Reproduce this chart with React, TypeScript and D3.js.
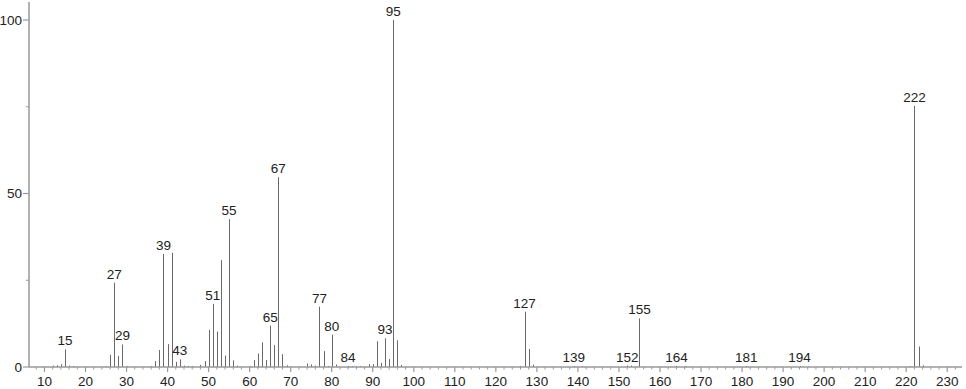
import React from "react";
import * as d3 from "d3";

const mzValues = [12, 13, 14, 15, 16, 17, 25, 26, 27, 28, 29, 30, 36, 37, 38, 39, 40, 41, 42, 43, 44, 45, 46, 48, 49, 50, 51, 52, 53, 54, 55, 56, 57, 60, 61, 62, 63, 64, 65, 66, 67, 68, 69, 74, 75, 76, 77, 78, 79, 80, 81, 84, 85, 86, 87, 89, 90, 91, 92, 93, 94, 95, 96, 97, 126, 127, 128, 129, 139, 141, 152, 153, 155, 164, 166, 181, 194, 221, 222, 223, 224];
const intensities = [0.4, 0.5, 0.8, 5.1, 0.4, 0.3, 0.3, 3.5, 24.3, 3.2, 6.5, 0.3, 0.3, 1.7, 4.9, 32.6, 6.6, 32.9, 1.5, 2.2, 0.4, 0.3, 0.3, 0.6, 1.7, 10.7, 18.2, 10.2, 30.8, 3.3, 42.6, 1.9, 0.4, 0.3, 2.0, 3.9, 7.1, 2.0, 11.9, 6.3, 54.7, 3.7, 0.5, 1.0, 0.7, 0.4, 17.4, 4.6, 0.3, 9.3, 0.7, 0.3, 0.3, 0.3, 0.3, 0.8, 0.8, 7.4, 1.2, 8.3, 2.3, 100, 7.7, 0.6, 0.3, 15.9, 5.2, 0.7, 0.3, 0.3, 0.4, 0.4, 14.0, 0.3, 0.3, 0.3, 0.3, 0.3, 75.2, 5.9, 0.5];
const labeledPeaks = [15, 27, 29, 39, 43, 51, 55, 65, 67, 77, 80, 84, 93, 95, 127, 139, 152, 155, 164, 181, 194, 222];
const xMajorTicks = d3.range(10, 231, 10);
const xMinorTicks = d3.range(8, 234, 2).filter((v) => v % 10 !== 0);
const yMajorTicks = [0, 50, 100];
const yMinorTicks = [25, 75];

const W = 966;
const H = 389;
const FONT = "'Liberation Sans', Arial, sans-serif";
const AXIS = "#999";

export default function App() {
  const x = d3.scaleLinear().domain([6.23, 233.6]).range([29, 962]);
  const y = d3.scaleLinear().domain([0, 100]).range([367, 20]);
  const peaks = mzValues.map((m, i) => ({ mz: m, v: intensities[i] }));
  const y0 = y(0);
  return (
    <svg width={W} height={H} style={{ position: "absolute", left: 0, top: 0, background: "#fff" }}>
      {/* peaks */}
      {peaks.map((p) => (
        <line
          key={"p" + p.mz}
          x1={Math.round(x(p.mz)) + 0.5}
          x2={Math.round(x(p.mz)) + 0.5}
          y1={y0}
          y2={y(p.v)}
          stroke="#6a6a6a"
          strokeWidth={1}
        />
      ))}
      {/* axes */}
      <line x1={x.range()[0]} x2={x.range()[1]} y1={y0} y2={y0} stroke={AXIS} strokeWidth={1.5} />
      <line x1={29} x2={29} y1={2} y2={y0} stroke={AXIS} strokeWidth={1.5} />
      {xMajorTicks.map((t) => (
        <g key={"xt" + t}>
          <line x1={x(t)} x2={x(t)} y1={y0} y2={y0 + 5} stroke={AXIS} strokeWidth={1.2} />
          <text x={x(t)} y={386} textAnchor="middle" fontFamily={FONT} fontSize={13.5} fill="#222">
            {t}
          </text>
        </g>
      ))}
      {xMinorTicks.map((t) => (
        <line key={"xm" + t} x1={x(t)} x2={x(t)} y1={y0} y2={y0 + 2.5} stroke={AXIS} strokeWidth={1} />
      ))}
      {yMajorTicks.map((t) => (
        <g key={"yt" + t}>
          <line x1={23} x2={29} y1={y(t)} y2={y(t)} stroke={AXIS} strokeWidth={1.2} />
          <text x={22} y={y(t)} dy="0.35em" textAnchor="end" fontFamily={FONT} fontSize={13.5} fill="#222">
            {t}
          </text>
        </g>
      ))}
      {yMinorTicks.map((t) => (
        <line key={"ym" + t} x1={26} x2={29} y1={y(t)} y2={y(t)} stroke={AXIS} strokeWidth={1} />
      ))}
      {/* peak labels */}
      {peaks
        .filter((p) => labeledPeaks.includes(p.mz))
        .map((p) => (
          <text
            key={"l" + p.mz}
            x={x(p.mz)}
            y={y(p.v) - 4}
            textAnchor="middle"
            fontFamily={FONT}
            fontSize={13.5}
            fill="#222"
          >
            {p.mz}
          </text>
        ))}
    </svg>
  );
}
